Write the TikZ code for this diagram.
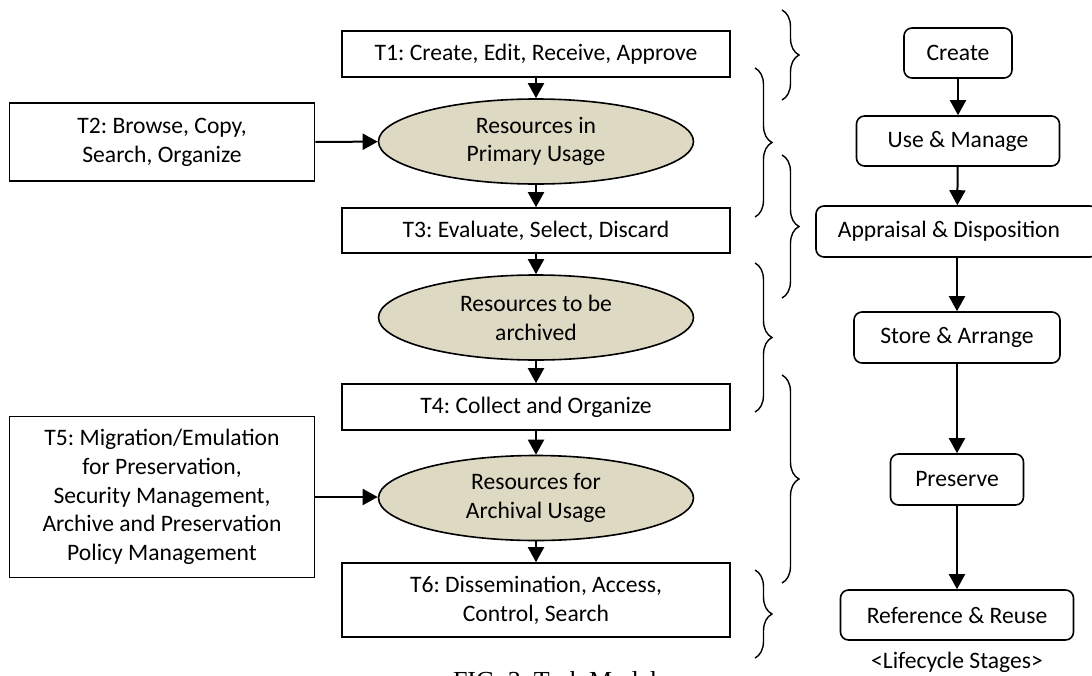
\documentclass[tikz,border=0pt]{standalone}
\usepackage{fontspec}
\setmainfont{Carlito}
\newfontfamily\capfont{Liberation Serif}
\usepackage{xcolor}
\usetikzlibrary{positioning,shapes.geometric,arrows.meta,decorations.pathreplacing}
\definecolor{resfill}{RGB}{221,217,195}
\frenchspacing

\begin{document}
\begin{tikzpicture}[x=0.5pt,y=-0.5pt,
  font=\fontsize{11.8}{14.4}\selectfont,
  task/.style={rectangle, draw, line width=0.8pt, minimum width=194pt, align=center, inner sep=0pt},
  side/.style={rectangle, draw, line width=0.8pt, minimum width=152.5pt, align=center, inner sep=0pt},
  res/.style={ellipse, draw, line width=0.8pt, fill=resfill, minimum width=157.5pt, minimum height=42.5pt, inner sep=0pt, align=center},
  stage/.style={rectangle, rounded corners=4pt, draw, line width=0.8pt, minimum height=25pt, inner sep=0pt},
  flow/.style={-{Triangle[length=7.5pt,width=8pt]}, line width=1pt},
  grp/.style={decorate, decoration={brace, amplitude=8.5pt}, line width=0.7pt}]
\useasboundingbox (0,0) rectangle (1092,675);

% task column
\node[task, minimum height=23pt] (t1) at (536,54) {T1: Create, Edit, Receive, Approve};
\node[res] (res1) at (536,141.5) {Resources in\\Primary Usage};
\node[task, minimum height=22.5pt] (t3) at (536,230.5) {T3: Evaluate, Select, Discard};
\node[res] (res2) at (536,317.5) {Resources to be\\archived};
\node[task, minimum height=23pt] (t4) at (536,407) {T4: Collect and Organize};
\node[res] (res3) at (536,498) {Resources for\\Archival Usage};
\node[task, minimum height=37pt] (t6) at (536,600) {T6: Dissemination, Access,\\Control, Search};

% side tasks
\node[side, minimum height=39pt] (t2) at (162,142) {T2: Browse, Copy,\\Search, Organize};
\node[side, minimum height=80.5pt] (t5) at (162,497) {T5: Migration/Emulation\\for Preservation,\\Security Management,\\Archive and Preservation\\Policy Management};

\draw[flow] (t1) -- (res1);
\draw[flow] (res1) -- (t3);
\draw[flow] (t3) -- (res2);
\draw[flow] (res2) -- (t4);
\draw[flow] (t4) -- (res3);
\draw[flow] (res3) -- (t6);
\draw[flow] (t2) -- (res1);
\draw[flow] (t5.east) -- (res3.west |- t5.east);

% lifecycle stages
\node[stage, minimum width=54pt] (create) at (958,53) {Create};
\node[stage, minimum width=101.5pt] (use) at (958,141) {Use \& Manage};
\node[stage, minimum width=141pt, minimum height=25.5pt] (appr) at (957,231.5) {\hspace{-8pt}Appraisal \& Disposition};
\node[stage, minimum width=103pt, minimum height=25.5pt] (store) at (957,337.5) {Store \& Arrange};
\node[stage, minimum width=66.5pt, minimum height=25.5pt] (pres) at (957,479.5) {Preserve};
\node[stage, minimum width=116.5pt] (ref) at (957,615) {Reference \& Reuse};
\node (lbl) at (957,662) {<Lifecycle Stages>};

\draw[flow] (create) -- (use);
\draw[flow] (use) -- (appr);
\draw[flow] (appr) -- (store);
\draw[flow] (store) -- (pres);
\draw[flow] (pres) -- (ref);

% braces between the columns
\coordinate (bA1) at (782,10);  \coordinate (bA2) at (782,100);
\coordinate (bB1) at (755,68);  \coordinate (bB2) at (755,217);
\coordinate (bC1) at (782,155); \coordinate (bC2) at (782,298);
\coordinate (bD1) at (755,263); \coordinate (bD2) at (755,412);
\coordinate (bE1) at (782,375); \coordinate (bE2) at (782,583);
\coordinate (bF1) at (755,570); \coordinate (bF2) at (755,658);
\foreach \b in {A,B,C,D,E,F}
  \draw[grp] (b\b1) -- (b\b2);

\node[font=\capfont\fontsize{13}{15}\selectfont, anchor=base] (cap) at (555,689) {FIG. 3. Task Model};
\end{tikzpicture}
\end{document}
